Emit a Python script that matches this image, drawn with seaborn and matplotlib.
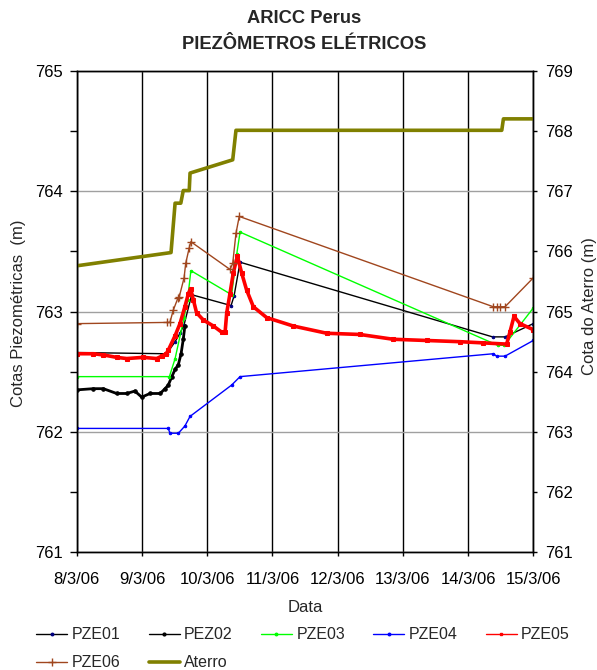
import pandas as pd
import matplotlib
matplotlib.use("Agg")
import matplotlib.pyplot as plt
import matplotlib.dates as mdates
from matplotlib.lines import Line2D
from matplotlib.ticker import MultipleLocator, FixedLocator, FuncFormatter
import seaborn as sns

START = pd.Timestamp("2006-03-08")
END = pd.Timestamp("2006-03-15")

# Readings: hours elapsed since 08/03/06 00:00 and elevation (m)
pze01_h = [0, 33.1, 36.2, 38.0, 39.5, 42.3, 56.8, 57.9, 60.1, 153.0, 157.6, 168]
pze01_v = [762.66, 762.65, 762.75, 762.82, 762.89, 763.14, 763.05, 763.13, 763.41, 762.79, 762.79, 762.90]

pez02_h = [0, 6.1, 9.8, 14.7, 18.4, 21.4, 23.9, 27.0, 30.7, 32.5, 33.7, 35.0, 36.2, 37.4, 38.4, 39.2, 39.8]
pez02_v = [762.35, 762.36, 762.36, 762.32, 762.32, 762.34, 762.29, 762.32, 762.32, 762.36, 762.39,
           762.46, 762.52, 762.56, 762.65, 762.77, 762.88]

pze03_h = [0, 34.1, 36.2, 39.5, 40.8, 42.0, 57.0, 58.9, 60.1, 154.9, 157.3, 168]
pze03_v = [762.46, 762.46, 762.61, 762.95, 763.10, 763.34, 763.14, 763.48, 763.66, 762.72, 762.72, 763.03]

pze04_h = [0, 33.7, 34.3, 37.4, 39.8, 41.7, 57.0, 60.1, 153.3, 154.5, 157.6, 168]
pze04_v = [762.03, 762.03, 761.99, 761.99, 762.05, 762.13, 762.39, 762.46, 762.65, 762.63, 762.63, 762.76]

pze05_h = [0, 6.1, 9.8, 14.7, 18.4, 24.5, 29.4, 31.3, 32.9, 33.7, 36.2, 38.0, 39.8, 41.1, 41.9,
           42.9, 44.1, 46.6, 50.3, 53.3, 54.6, 55.2, 56.4, 57.6, 59.1, 60.7, 62.5, 65.0, 69.9,
           79.7, 92.0, 104.2, 116.5, 128.8, 141.0, 149.6, 158.2, 159.4, 160.9, 163.1, 168]
pze05_v = [762.65, 762.65, 762.64, 762.62, 762.61, 762.62, 762.61, 762.63, 762.65, 762.68, 762.80,
           762.90, 763.04, 763.15, 763.19, 763.10, 762.99, 762.93, 762.88, 762.83, 762.83, 762.99,
           763.15, 763.32, 763.46, 763.32, 763.18, 763.04, 762.95, 762.88, 762.82, 762.81, 762.77,
           762.76, 762.75, 762.74, 762.73, 762.83, 762.96, 762.90, 762.85]

pze06_h = [0, 33.3, 34.3, 35.5, 37.2, 37.7, 39.5, 40.1, 41.4, 42.0, 56.4, 57.4, 58.6, 59.8,
           153.3, 154.6, 155.7, 157.6, 168]
pze06_v = [762.90, 762.91, 762.91, 763.01, 763.11, 763.12, 763.28, 763.40, 763.53, 763.58, 763.35,
           763.40, 763.65, 763.79, 763.04, 763.04, 763.04, 763.04, 763.28]

aterro_h = [0, 34.7, 36.2, 38.3, 39.2, 41.4, 41.7, 57.4, 58.6, 156.4, 157.0, 168]
aterro_v = [765.76, 765.98, 766.80, 766.80, 767.01, 767.01, 767.30, 767.52, 768.01, 768.01, 768.20, 768.20]

left_ticks = [761, 762, 763, 764, 765]
right_ticks = [761, 762, 763, 764, 765, 766, 767, 768, 769]


def frame(hours, values):
    return pd.DataFrame({"Data": START + pd.to_timedelta(hours, unit="h"), "Cota": values})


sns.set_style("white")
plt.rcParams["font.family"] = ["Liberation Sans", "DejaVu Sans"]
plt.rcParams["font.size"] = 12

fig = plt.figure(figsize=(5.97, 6.70), dpi=100)
ax = fig.add_axes([0.1285, 0.1754, 0.7648, 0.7191])
ax2 = ax.twinx()

series = [
    ("PZE01", pze01_h, pze01_v, dict(color="black", lw=1.0, marker="o", ms=1.8, mfc="#000080", mec="#000080")),
    ("PEZ02", pez02_h, pez02_v, dict(color="black", lw=2.0, marker="o", ms=2.5, mfc="black", mec="black")),
    ("PZE03", pze03_h, pze03_v, dict(color="#00FF00", lw=1.0, marker="o", ms=1.8, mfc="#00FF00", mec="#00FF00")),
    ("PZE04", pze04_h, pze04_v, dict(color="#0000FF", lw=1.0, marker="o", ms=1.8, mfc="#0000FF", mec="#0000FF")),
    ("PZE05", pze05_h, pze05_v, dict(color="#FF0000", lw=2.6, marker="s", ms=2.6, mfc="#FF0000", mec="#FF0000")),
    ("PZE06", pze06_h, pze06_v, dict(color="#A0461E", lw=1.0, marker="+", ms=6, mew=1.0, mec="#A0461E")),
]

handles = {}
for name, h, v, style in series:
    sns.lineplot(data=frame(h, v), x="Data", y="Cota", ax=ax, estimator=None, sort=False, **style)
    leg_style = dict(style)
    leg_style["lw"] = 1.0
    if name in ("PZE05", "PEZ02"):
        leg_style["ms"] = 2.0
    handles[name] = Line2D([], [], label=name, **leg_style)

sns.lineplot(data=frame(aterro_h, aterro_v), x="Data", y="Cota", ax=ax2, estimator=None,
             sort=False, color="#808000", lw=2.6)
handles["Aterro"] = Line2D([], [], label="Aterro", color="#808000", lw=2.6)

# Axes limits, ticks and grid
ax.set_xlim(START, END)
ax.set_ylim(761, 765)
ax2.set_ylim(761, 769)
ax.yaxis.set_major_locator(FixedLocator(left_ticks))
ax.yaxis.set_minor_locator(MultipleLocator(0.5))
ax2.yaxis.set_major_locator(FixedLocator(right_ticks))
ax.xaxis.set_major_locator(mdates.DayLocator())
ax.xaxis.set_major_formatter(FuncFormatter(
    lambda x, pos: (lambda d: f"{d.day}/{d.month}/{d:%y}")(mdates.num2date(x))))

ax.grid(axis="x", color="black", lw=1.0)
ax.grid(axis="y", which="major", color="#A0A0A0", lw=1.0)
ax.set_axisbelow(True)

for a in (ax, ax2):
    for s in a.spines.values():
        s.set_color("black")
        s.set_linewidth(1.0)
ax.tick_params(axis="y", which="both", direction="out", length=5, width=1, colors="black",
               labelsize=12, left=True, pad=5)
ax.tick_params(axis="x", direction="out", length=3, width=1, colors="black",
               labelsize=12, bottom=True, pad=11)
ax2.tick_params(axis="y", direction="out", length=3, width=1, colors="black", labelsize=12,
                right=True, pad=5.5)

ax.set_xlabel("")
ax.set_ylabel("")
ax2.set_ylabel("")

fig.text(0.509, 0.972, "ARICC Perus", ha="center", va="center", fontsize=13.2, fontweight="bold")
fig.text(0.509, 0.934, "PIEZÔMETROS ELÉTRICOS", ha="center", va="center", fontsize=13.2, fontweight="bold")
fig.text(0.031, 0.533, "Cotas Piezométricas  (m)", rotation=90, ha="center", va="center", fontsize=12)
fig.text(0.988, 0.543, "Cota do Aterro (m)", rotation=90, ha="center", va="center", fontsize=12)
fig.text(0.511, 0.093, "Data", ha="center", va="center", fontsize=12)

# Legend laid out row by row: five entries on the first row, two on the second
order = ["PZE01", "PZE06", "PEZ02", "Aterro", "PZE03", "PZE04", "PZE05"]
leg_handles = [handles[k] for k in order]
fig.legend(handles=leg_handles, labels=order, ncol=5, loc="upper left",
           bbox_to_anchor=(0.050, 0.073), frameon=False, fontsize=11.5, handlelength=1.95,
           handletextpad=0.28, columnspacing=1.75, labelspacing=0.8, borderaxespad=0)

fig.savefig("out.png", dpi=100)
